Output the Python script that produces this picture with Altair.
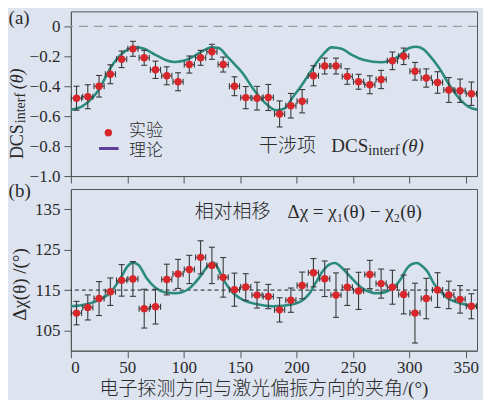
import altair as alt
import pandas as pd

# ---------------- data ----------------
theta = [5, 15, 25, 35, 45, 55, 65, 75, 85, 95, 105, 115, 125, 135, 145, 155, 165, 175,
         185, 195, 205, 215, 225, 235, 245, 255, 265, 275, 285, 295, 305, 315, 325, 335, 345, 355]
theta_halfwidth = 4.5

dcs = [-0.48, -0.47, -0.40, -0.32, -0.22, -0.15, -0.21, -0.29, -0.33, -0.37, -0.255, -0.21,
       -0.17, -0.255, -0.40, -0.476, -0.48, -0.475, -0.585, -0.53, -0.50, -0.33, -0.265, -0.265,
       -0.335, -0.37, -0.39, -0.355, -0.23, -0.20, -0.30, -0.345, -0.375, -0.425, -0.43, -0.45]
dcs_err = [0.08, 0.08, 0.072, 0.063, 0.055, 0.05, 0.05, 0.058, 0.06, 0.06, 0.057, 0.05,
           0.05, 0.05, 0.063, 0.074, 0.079, 0.087, 0.087, 0.082, 0.078, 0.067, 0.053, 0.053,
           0.052, 0.05, 0.06, 0.061, 0.059, 0.055, 0.059, 0.061, 0.072, 0.083, 0.078, 0.078]

chi = [109.3, 110.7, 112.9, 114.6, 117.4, 117.75, 110.4, 110.9, 117.6, 119.0, 120.1, 123.1,
       121.1, 118.15, 115.1, 115.75, 113.75, 113.4, 110.1, 112.5, 116.15, 119.3, 117.8, 113.75,
       115.7, 114.8, 118.85, 116.6, 115.7, 113.9, 109.3, 112.9, 115.0, 113.8, 112.7, 111.0]
chi_err = [2.9, 3.1, 4.2, 3.4, 3.9, 4.3, 4.8, 4.3, 3.8, 3.6, 3.5, 4.1,
           4.5, 4.9, 4.1, 3.3, 3.2, 3.0, 3.0, 3.0, 3.3, 3.5, 4.4, 5.5,
           4.5, 4.6, 3.5, 3.6, 4.2, 4.8, 7.4, 5.0, 4.3, 3.4, 3.4, 3.1]

fit_theta_a = [0, 10, 20, 25, 30, 35, 40, 45, 50, 57, 65, 75, 85, 92, 100, 110, 118, 125, 131,
               139, 146, 153, 160, 167, 175, 182, 189, 197, 204, 211, 218, 225, 231, 240, 249,
               260, 275, 289, 300, 306, 312, 318, 326, 336, 346, 353, 360]
fit_dcs = [-0.557, -0.535, -0.47, -0.42, -0.35, -0.28, -0.225, -0.185, -0.155, -0.138, -0.15,
           -0.19, -0.228, -0.238, -0.23, -0.195, -0.16, -0.14, -0.145, -0.205, -0.26, -0.32,
           -0.40, -0.47, -0.53, -0.56, -0.55, -0.47, -0.40, -0.32, -0.24, -0.175, -0.14, -0.15,
           -0.19, -0.225, -0.24, -0.207, -0.145, -0.136, -0.15, -0.195, -0.273, -0.396, -0.496,
           -0.54, -0.556]

fit_theta_b = [0, 14, 26, 35, 45, 50, 55, 60, 67, 75, 84, 93, 104, 110, 116, 121, 126, 130,
               133, 142, 153, 165, 179, 197, 211, 217, 223, 229, 234, 240, 246, 258, 272, 286,
               293, 298, 303, 307, 311, 316, 322, 327, 334, 341, 350, 360]
fit_chi = [111.0, 111.5, 112.7, 114.4, 118.4, 120.8, 121.8, 121.2, 118.0, 115.6, 114.4, 114.2,
           115.2, 116.8, 118.9, 120.8, 121.8, 120.6, 118.8, 114.8, 112.5, 111.5, 111.0, 111.5,
           114.0, 116.8, 119.6, 121.3, 121.7, 120.6, 118.8, 115.5, 114.2, 115.6, 118.0, 120.4,
           121.5, 121.7, 121.0, 119.6, 116.5, 114.8, 113.0, 112.1, 111.4, 111.0]

x_ticks = [0, 50, 100, 150, 200, 250, 300, 350]
ya_ticks = [-1.0, -0.8, -0.6, -0.4, -0.2, 0]
yb_ticks = [105, 115, 125, 135]
ref_a = [0]
ref_b = [115]
legend_labels = ["实验", "理论"]
x_title = "电子探测方向与激光偏振方向的夹角/(°)"

# ---------------- styles ----------------
BG = "#dde4f0"
RED = "#d7272b"
TEAL = "#2c8b7f"
PURPLE = "#5f3e97"
ERR = "#3a3a3a"
TXT = "#2a2a2a"
FRAME = "#555555"
SERIF = "Liberation Serif"
MIXED = "Liberation Serif, Noto Sans CJK SC"
CJK = "Noto Sans CJK SC"

W, HA, HB = 407, 165, 162

xs = alt.Scale(domain=[0, 360], nice=False, zero=False)
ya = alt.Scale(domain=[-1.0, 0.1], nice=False, zero=False)
yb = alt.Scale(domain=[100, 140], nice=False, zero=False)

common_axis = dict(grid=False, tickSize=7, tickColor=FRAME, domainColor=FRAME,
                   labelFont=SERIF, labelFontSize=17, labelColor=TXT)
AX_A = alt.Axis(values=x_ticks, labels=False, title=None, **common_axis)
AX_B = alt.Axis(values=x_ticks, title=x_title, titleFont=MIXED, titleFontSize=19,
                titleFontWeight=300, titleColor=TXT, titleX=193, titleY=44,
                titleBaseline="alphabetic", titleAlign="center", labelPadding=2,
                **common_axis)
AY_A = alt.Axis(values=ya_ticks, title=None, labelPadding=4,
                labelExpr="datum.value == 0 ? '0' : format(datum.value, '.1f')", **common_axis)
AY_B = alt.Axis(values=yb_ticks, title=None, labelPadding=4, **common_axis)


def pts_frame(vals, errs):
    df = pd.DataFrame({"theta": theta, "v": vals, "err": errs})
    df["lo"] = df["v"] - df["err"]
    df["hi"] = df["v"] + df["err"]
    df["xlo"] = df["theta"] - theta_halfwidth
    df["xhi"] = df["theta"] + theta_halfwidth
    return df


def ptext(s, x, y, size, font=SERIF, angle=0, style="normal", align="left",
          baseline="alphabetic", weight="normal"):
    return alt.Chart(pd.DataFrame({"t": [s]})).mark_text(
        align=align, baseline=baseline, angle=angle, fontSize=size, font=font,
        fontStyle=style, fontWeight=weight, color=TXT
    ).encode(x=alt.value(x), y=alt.value(y), text="t:N")


def dtext(s, x, y, size, yscale, AX, AY, font=SERIF, style="normal", baseline="alphabetic",
          weight="normal"):
    df = pd.DataFrame({"t": [s], "x": [x], "y": [y]})
    return alt.Chart(df).mark_text(
        align="left", baseline=baseline, fontSize=size, font=font, fontStyle=style,
        fontWeight=weight, color=TXT
    ).encode(x=alt.X("x:Q", scale=xs, axis=AX), y=alt.Y("y:Q", scale=yscale, axis=AY),
             text="t:N")


def panel(vals, errs, fit_x, fit_y, ref, yscale, AX, AY, ref_color, ref_dash, ref_width):
    dfp = pts_frame(vals, errs)
    dff = pd.DataFrame({"theta": fit_x, "v": fit_y})
    X = alt.X("theta:Q", scale=xs, axis=AX)
    Y = alt.Y("v:Q", scale=yscale, axis=AY)
    refl = alt.Chart(pd.DataFrame({"v": ref})).mark_rule(
        color=ref_color, strokeDash=ref_dash, strokeWidth=ref_width).encode(y=Y)
    fit = alt.Chart(dff).mark_line(color=TEAL, strokeWidth=2.6, interpolate="monotone").encode(x=X, y=Y)
    base = alt.Chart(dfp)
    vbar = base.mark_rule(color=ERR, strokeWidth=1.1).encode(
        x=X, y=alt.Y("lo:Q", scale=yscale, axis=AY), y2="hi:Q")
    hbar = base.mark_rule(color=ERR, strokeWidth=1.1).encode(
        x=alt.X("xlo:Q", scale=xs, axis=AX), x2="xhi:Q", y=Y)
    cap_lo = base.mark_tick(orient="horizontal", size=6, thickness=1.1, color=ERR, opacity=1).encode(
        x=X, y=alt.Y("lo:Q", scale=yscale, axis=AY))
    cap_hi = base.mark_tick(orient="horizontal", size=6, thickness=1.1, color=ERR, opacity=1).encode(
        x=X, y=alt.Y("hi:Q", scale=yscale, axis=AY))
    cap_l = base.mark_tick(orient="vertical", size=6, thickness=1.1, color=ERR, opacity=1).encode(
        x=alt.X("xlo:Q", scale=xs, axis=AX), y=Y)
    cap_r = base.mark_tick(orient="vertical", size=6, thickness=1.1, color=ERR, opacity=1).encode(
        x=alt.X("xhi:Q", scale=xs, axis=AX), y=Y)
    dots = base.mark_circle(size=55, color=RED, opacity=1).encode(x=X, y=Y)
    return [refl, fit, vbar, hbar, cap_lo, cap_hi, cap_l, cap_r, dots]


# ---------------- panel (a) ----------------
layers_a = panel(dcs, dcs_err, fit_theta_a, fit_dcs, ref_a, ya, AX_A, AY_A, "#9b9b9b", [9, 6], 1.3)

leg_dot = alt.Chart(pd.DataFrame({"x": [33.2], "y": [-0.711]})).mark_circle(
    size=55, color=RED, opacity=1).encode(
    x=alt.X("x:Q", scale=xs, axis=AX_A), y=alt.Y("y:Q", scale=ya, axis=AY_A))
leg_line = alt.Chart(pd.DataFrame({"x": [25.0], "x2": [42.3], "y": [-0.816]})).mark_rule(
    color=PURPLE, strokeWidth=3).encode(
    x=alt.X("x:Q", scale=xs, axis=AX_A), x2="x2:Q", y=alt.Y("y:Q", scale=ya, axis=AY_A))

texts_a = [
    dtext(legend_labels[0], 51.6, -0.700, 17, ya, AX_A, AY_A, font=CJK, baseline="middle", weight=300),
    dtext(legend_labels[1], 51.6, -0.835, 17, ya, AX_A, AY_A, font=CJK, baseline="middle", weight=300),
    dtext("干涉项", 166.8, -0.842, 19, ya, AX_A, AY_A, font=CJK, weight=300),
    dtext("DCS", 230.9, -0.842, 19, ya, AX_A, AY_A),
    dtext("interf", 263.5, -0.862, 14.5, ya, AX_A, AY_A),
    dtext("(θ)", 293.5, -0.842, 19, ya, AX_A, AY_A, style="italic"),
    ptext("(a)", -62.4, 13, 19),
    ptext("DCS", -48.4, 148, 18, angle=270),
    ptext("interf", -46.4, 112, 14, angle=270),
    ptext("(θ)", -48.4, 78, 18, angle=270, style="italic"),
]

top = alt.layer(*layers_a, leg_line, leg_dot, *texts_a).properties(width=W, height=HA)

# ---------------- panel (b) ----------------
layers_b = panel(chi, chi_err, fit_theta_b, fit_chi, ref_b, yb, AX_B, AY_B, "#1e1e1e", [4, 3], 1.0)
texts_b = [
    dtext("相对相移", 109.7, 132.8, 19, yb, AX_B, AY_B, font=CJK, weight=300),
    dtext("Δχ = χ₁(θ) − χ₂(θ)", 192.0, 132.8, 19, yb, AX_B, AY_B),
    ptext("(b)", -62.4, 8, 19),
    ptext("Δχ(θ) /(°)", -45.1, 132, 19, angle=270),
]
bottom = alt.layer(*layers_b, *texts_b).properties(width=W, height=HB)

chart = alt.vconcat(top, bottom, spacing=13, bounds="flush").properties(
    padding={"left": 0, "top": 0, "right": 0, "bottom": 0},
    background=BG,
).configure_view(stroke=FRAME, strokeWidth=1)

chart.save("out.html", embed_options={"renderer": "svg", "actions": False})
